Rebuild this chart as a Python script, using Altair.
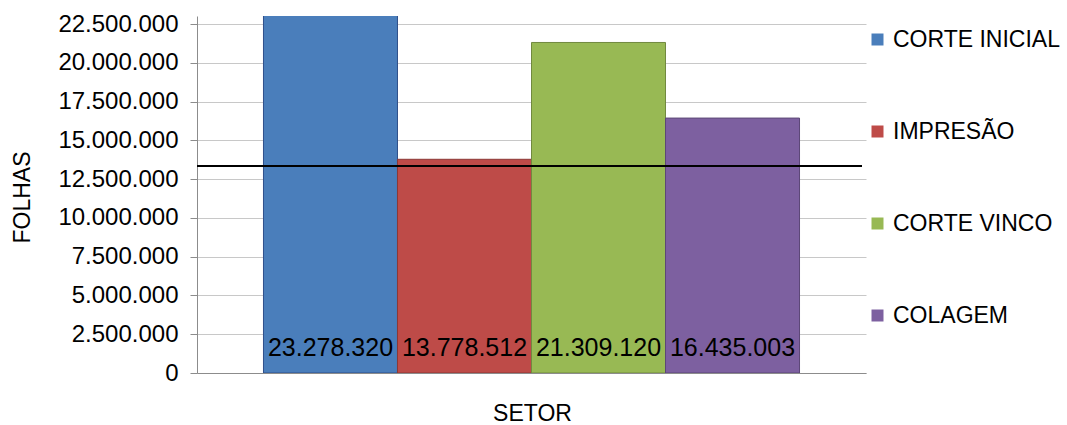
import altair as alt
import pandas as pd

setores = ["CORTE INICIAL", "IMPRESÃO", "CORTE VINCO", "COLAGEM"]
folhas = [23278320, 13778512, 21309120, 16435003]
linha_ref = [13350000]
cores = ["#4A7EBB", "#BE4B48", "#98B954", "#7D60A0"]
bordas = ["#2F4F8A", "#8C3836", "#71893F", "#5C4776"]
y_ticks = [0, 2500000, 5000000, 7500000, 10000000, 12500000, 15000000,
           17500000, 20000000, 22500000]
y_max = 23016000

W, H = 669, 357
FONT = "Liberation Sans"

df = pd.DataFrame({"setor": setores, "folhas": folhas})
df_linha = pd.DataFrame({"v": linha_ref})

fmt_axis = "replace(replace(format(datum.value, ','), ',', '.'), ',', '.')"
fmt_lbl = "replace(replace(format(datum.folhas, ','), ',', '.'), ',', '.')"

x_enc = alt.X(
    "setor:N", sort=setores,
    scale=alt.Scale(paddingInner=0, paddingOuter=0.496),
    axis=alt.Axis(labels=False, ticks=False, title="SETOR", domainColor="#8c8c8c",
                  titleX=335, titleY=40, titleAlign="center", titleBaseline="middle",
                  titleFontSize=23, titleFontWeight="normal", titleFont=FONT,
                  titleColor="#000000"),
)

y_scale = alt.Scale(domain=[0, y_max], nice=False, zero=True)
y_axis = alt.Axis(values=y_ticks, labelExpr=fmt_axis, tickSize=7, labelPadding=12,
                  labelOverlap=False, labelFontSize=24, labelFont=FONT,
                  labelColor="#000000",
                  tickColor="#8c8c8c", domainColor="#8c8c8c",
                  gridColor="#c8c8c8", grid=True,
                  title="FOLHAS", titleX=-175, titleY=181, titleAngle=270,
                  titleAlign="center", titleBaseline="middle", titleFontSize=23,
                  titleFontWeight="normal", titleFont=FONT, titleColor="#000000")

bars = alt.Chart(df).mark_bar(clip=True, strokeWidth=1).encode(
    x=x_enc,
    y=alt.Y("folhas:Q", scale=y_scale, axis=y_axis),
    color=alt.Color("setor:N", sort=setores,
                    scale=alt.Scale(domain=setores, range=cores),
                    legend=alt.Legend(title=None, orient="none", legendX=669, legendY=12,
                                      symbolType="square", symbolSize=144,
                                      symbolStrokeWidth=0, labelLimit=400,
                                      labelFontSize=23, labelFont=FONT, labelColor="#000000",
                                      labelOffset=4, rowPadding=68)),
    stroke=alt.Stroke("setor:N", scale=alt.Scale(domain=setores, range=bordas), legend=None),
)

labels = alt.Chart(df).transform_calculate(lbl=fmt_lbl).mark_text(
    font=FONT, fontSize=25, baseline="middle", align="center", color="#000000"
).encode(
    x=x_enc,
    y=alt.value(H - 25),
    text="lbl:N",
)

rule = alt.Chart(df_linha).mark_rule(color="#000000", strokeWidth=2).encode(
    y=alt.Y("v:Q", scale=y_scale, axis=y_axis),
    x=alt.value(0),
    x2=alt.value(W - 4),
)

chart = alt.layer(bars, rule, labels).properties(
    width=W, height=H,
    padding={"left": 197, "top": 16, "right": 201, "bottom": 52},
    autosize=alt.AutoSizeParams(type="none"),
    background="#ffffff",
).configure_view(stroke=None)

chart.save("out.html", embed_options={"renderer": "svg", "actions": False})
